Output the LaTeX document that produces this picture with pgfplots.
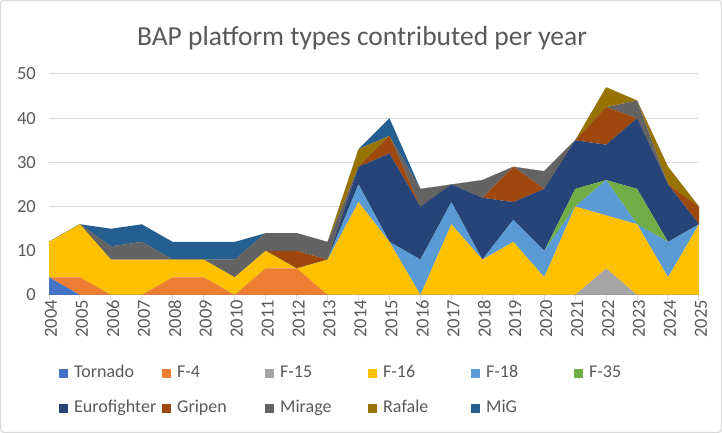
\documentclass[border=0pt]{standalone}
\usepackage{pgfplots}
\pgfplotsset{compat=1.18}
\usepackage{pgfplotstable}
\usepackage{fontspec}
\setmainfont{Carlito}
\definecolor{txt}{HTML}{595959}
\definecolor{grd}{HTML}{D9D9D9}
\definecolor{cTor}{HTML}{4472C4}
\definecolor{cF4}{HTML}{ED7D31}
\definecolor{cF15}{HTML}{A5A5A5}
\definecolor{cF16}{HTML}{FFC000}
\definecolor{cF18}{HTML}{5B9BD5}
\definecolor{cF35}{HTML}{70AD47}
\definecolor{cEF}{HTML}{264478}
\definecolor{cGri}{HTML}{9E480E}
\definecolor{cMir}{HTML}{636363}
\definecolor{cRaf}{HTML}{997300}
\definecolor{cMig}{HTML}{255E91}
\pgfplotstableread{
year tor f4 f15 f16 f18 f35 ef gri mir raf mig
2004 4 0 0 8 0 0 0 0 0 0 0
2005 0 4 0 12 0 0 0 0 0 0 0
2006 0 0 0 8 0 0 0 0 3 0 4
2007 0 0 0 8 0 0 0 0 4 0 4
2008 0 4 0 4 0 0 0 0 0 0 4
2009 0 4 0 4 0 0 0 0 0 0 4
2010 0 0 0 4 0 0 0 0 4 0 4
2011 0 6 0 4 0 0 0 0 4 0 0
2012 0 6 0 0 0 0 0 4 4 0 0
2013 0 0 0 8 0 0 0 0 4 0 0
2014 0 0 0 21 4 0 4 0 0 4 0
2015 0 0 0 12 0 0 20 4 0 0 4
2016 0 0 0 0 8 0 12 0 4 0 0
2017 0 0 0 16 5 0 4 0 0 0 0
2018 0 0 0 8 0 0 14 0 4 0 0
2019 0 0 0 12 5 0 4 8 0 0 0
2020 0 0 0 4 6 0 14 0 4 0 0
2021 0 0 0 20 0 4 11 0 0 0 0
2022 0 0 6 12 8 0 8 8.5 0 4.5 0
2023 0 0 0 16 0 8 16 0 4 0 0
2024 0 0 0 4 8 0 13 0 0 4 0
2025 0 0 0 16 0 0 0 4 0 0 0
}\data
\newcommand{\legtxt}[1]{\makebox[88bp][l]{#1}}
\begin{document}
\begin{tikzpicture}[x=1bp,y=1bp]
\draw[grd, line width=1.2bp, rounded corners=3bp] (0.6,0.6) rectangle (721.4,432.4);
\node[txt, font=\fontsize{27.5bp}{32bp}\selectfont, anchor=center] at (362,395) {BAP platform types contributed per year};
\begin{axis}[
  at={(49bp,138bp)}, anchor=south west,
  scale only axis, width=650bp, height=221bp,
  stack plots=y,
  xmin=2004, xmax=2025, ymin=0, ymax=50,
  xtick={2004,...,2025}, ytick={0,10,...,50},
  axis line style={draw=none},
  axis x line*=bottom,
  x axis line style={draw=grd, line width=1bp},
  ymajorgrids, grid style={grd, line width=1bp},
  tick style={grd, line width=1bp},
  ytick style={draw=none},
  xtick align=outside, major tick length=5bp,
  /pgf/number format/assume math mode=true,
  /pgf/number format/1000 sep={},
  tick label style={font=\fontsize{18.5bp}{21bp}\selectfont, text=txt},
  xticklabel style={rotate=90, anchor=east, inner sep=0pt, yshift=-2bp},
  yticklabel style={anchor=east, inner sep=0pt, xshift=-13bp},
  legend columns=6,
  legend style={at={(axis description cs:0.0154,-0.315)}, anchor=north west, draw=none, fill=none,
    font=\fontsize{18bp}{21bp}\selectfont, text=txt, inner sep=0pt,
    nodes={inner sep=0pt, text height=13bp, text depth=4bp}, row sep=18bp,
    /tikz/every odd column/.append style={column sep=6bp}},
  legend image code/.code={\fill[#1] (0bp,-4.5bp) rectangle (9bp,4.5bp);},
]
\addplot[fill=cTor, draw=none] table[x=year,y=tor]{\data} \closedcycle; \addlegendentry{\legtxt{Tornado}}
\addplot[fill=cF4, draw=none] table[x=year,y=f4]{\data} \closedcycle; \addlegendentry{\legtxt{F-4}}
\addplot[fill=cF15, draw=none] table[x=year,y=f15]{\data} \closedcycle; \addlegendentry{\legtxt{F-15}}
\addplot[fill=cF16, draw=none] table[x=year,y=f16]{\data} \closedcycle; \addlegendentry{\legtxt{F-16}}
\addplot[fill=cF18, draw=none] table[x=year,y=f18]{\data} \closedcycle; \addlegendentry{\legtxt{F-18}}
\addplot[fill=cF35, draw=none] table[x=year,y=f35]{\data} \closedcycle; \addlegendentry{\legtxt{F-35}}
\addplot[fill=cEF, draw=none] table[x=year,y=ef]{\data} \closedcycle; \addlegendentry{\legtxt{Eurofighter}}
\addplot[fill=cGri, draw=none] table[x=year,y=gri]{\data} \closedcycle; \addlegendentry{\legtxt{Gripen}}
\addplot[fill=cMir, draw=none] table[x=year,y=mir]{\data} \closedcycle; \addlegendentry{\legtxt{Mirage}}
\addplot[fill=cRaf, draw=none] table[x=year,y=raf]{\data} \closedcycle; \addlegendentry{\legtxt{Rafale}}
\addplot[fill=cMig, draw=none] table[x=year,y=mig]{\data} \closedcycle; \addlegendentry{\legtxt{MiG}}
\end{axis}
\end{tikzpicture}
\end{document}
